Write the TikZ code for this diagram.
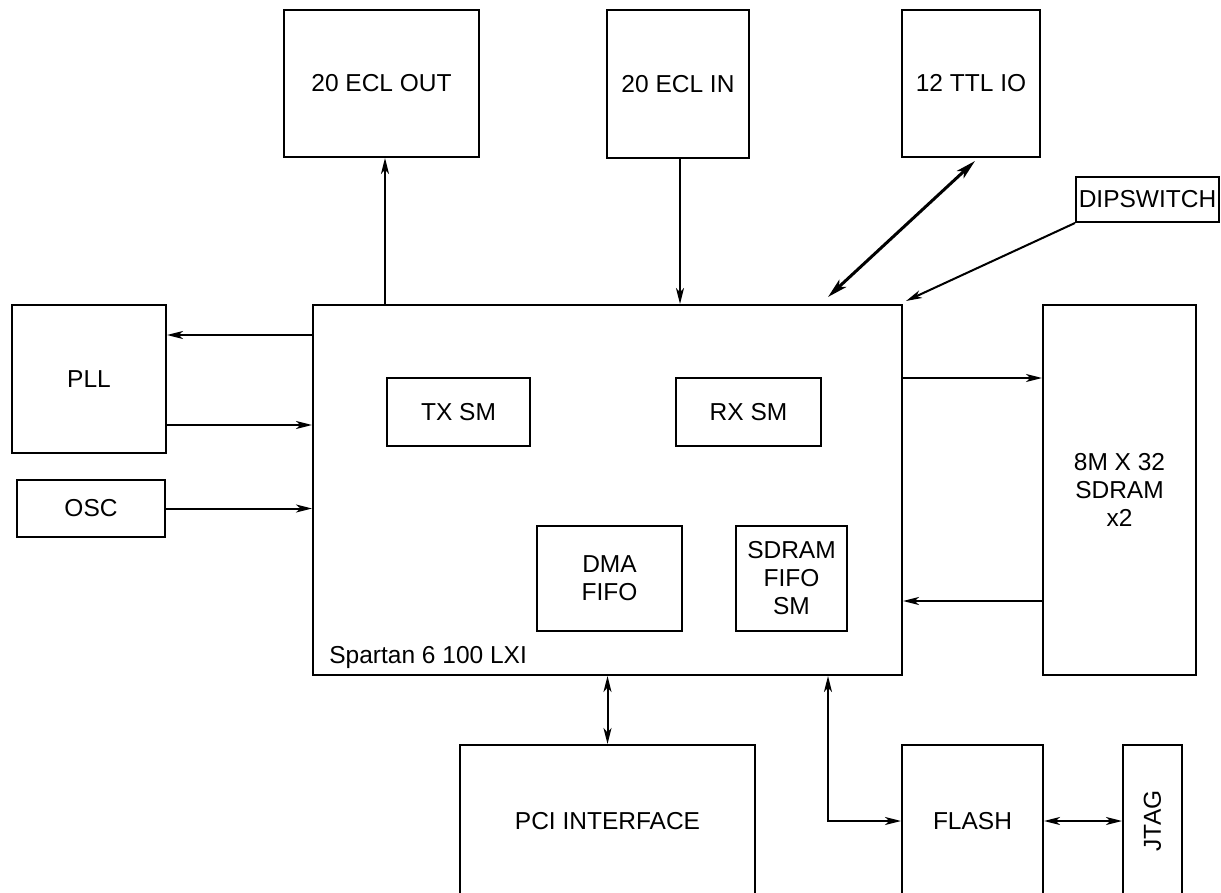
\documentclass[tikz,border=0pt]{standalone}
\usepackage{fontspec}
\setmainfont{Liberation Sans}
\usetikzlibrary{arrows.meta}

\begin{document}
\begin{tikzpicture}[x=0.5pt, y=-0.5pt,
    blk/.style={draw, line width=1pt, inner sep=0pt, align=center,
      font=\fontsize{12.25}{14}\selectfont},
    arr/.style={line width=1pt, -{Stealth[length=8pt, width=4pt, inset=2.2pt]}},
    barr/.style={line width=1pt, {Stealth[length=8pt, width=4pt, inset=2.2pt]}-{Stealth[length=8pt, width=4pt, inset=2.2pt]}},
    bigarr/.style={line width=1.5pt, {Stealth[length=10pt, width=5pt, inset=2.5pt]}-{Stealth[length=10pt, width=5pt, inset=2.5pt]}}]
  \useasboundingbox (0,0) rectangle (1221,893);
  \node[blk, minimum width=97.5pt, minimum height=73.5pt] (eclout) at (381.5,83.5) {20 ECL OUT};
  \node[blk, minimum width=71pt, minimum height=74pt] (eclin) at (678,84) {20 ECL IN};
  \node[blk, minimum width=69pt, minimum height=73.5pt] (ttl) at (971,83.5) {12 TTL IO};
  \node[blk, minimum width=71.5pt, minimum height=22.5pt] (dip) at (1147.5,199.5) {DIPSWITCH};
  \node[blk, minimum width=294.5pt, minimum height=185pt] (spartan) at (607.5,490) {};
  \node[blk, minimum width=77pt, minimum height=74pt] (pll) at (89,379) {PLL};
  \node[blk, minimum width=74pt, minimum height=28.5pt] (osc) at (91,508.5) {OSC};
  \node[blk, minimum width=71.5pt, minimum height=34pt] (txsm) at (458.5,412) {TX SM};
  \node[blk, minimum width=72.5pt, minimum height=34pt] (rxsm) at (748.5,412) {RX SM};
  \node[blk, minimum width=72.5pt, minimum height=52.5pt] (dma) at (609.5,578.5) {DMA\\FIFO};
  \node[blk, minimum width=55.5pt, minimum height=52.5pt] (sdfifo) at (791.5,578.5) {SDRAM\\FIFO\\SM};
  \node[blk, minimum width=76.5pt, minimum height=185pt] (sdram) at (1119.5,490) {8M X 32\\SDRAM\\x2};
  \node[blk, minimum width=147.5pt, minimum height=76pt] (pci) at (607.5,821) {PCI INTERFACE};
  \node[blk, minimum width=70.5pt, minimum height=76pt] (flash) at (972.5,821) {FLASH};
  \node[blk, minimum width=29.5pt, minimum height=76pt] (jtag) at (1152.5,821) {};
  \node[rotate=90, font=\fontsize{12.25}{14}\selectfont] (jtaglbl) at (jtag) {JTAG};
  \node[anchor=base west, inner sep=0pt, font=\fontsize{12.25}{14}\selectfont] (splbl)
    at ([xshift=8.5pt, yshift=6.5pt]spartan.south west) {Spartan 6 100 LXI};
  % connections
  \draw[arr] ([xshift=1.75pt]spartan.north -| eclout.south) -- ([xshift=1.75pt]eclout.south);
  \draw[arr] ([xshift=1pt]eclin.south) -- ([xshift=1pt]eclin.south |- spartan.north);
  \draw[bigarr] ([xshift=2pt, yshift=-1.5pt]ttl.south) -- ([xshift=110.25pt, yshift=3.5pt]spartan.north);
  \draw[arr] (dip.south west) -- ([xshift=1.5pt, yshift=1.5pt]spartan.north east);
  \draw[arr] ([yshift=-15.5pt]spartan.north west) -- ([yshift=-15.5pt]pll.north east);
  \draw[arr] ([yshift=14.5pt]pll.south east) -- ([yshift=14.5pt]pll.south east -| spartan.west);
  \draw[arr] (osc.east) -- (osc.east -| spartan.west);
  \draw[arr] ([yshift=-37pt]spartan.north east) -- ([yshift=-37pt]spartan.north east -| sdram.west);
  \draw[arr] ([yshift=37.5pt]sdram.south west) -- ([yshift=37.5pt]sdram.south west -| spartan.east);
  \draw[barr] (spartan.south) -- (pci.north);
  \draw[barr] ([xshift=110.25pt]spartan.south) |- (flash.west);
  \draw[barr] (flash.east) -- (jtag.west);
\end{tikzpicture}
\end{document}
